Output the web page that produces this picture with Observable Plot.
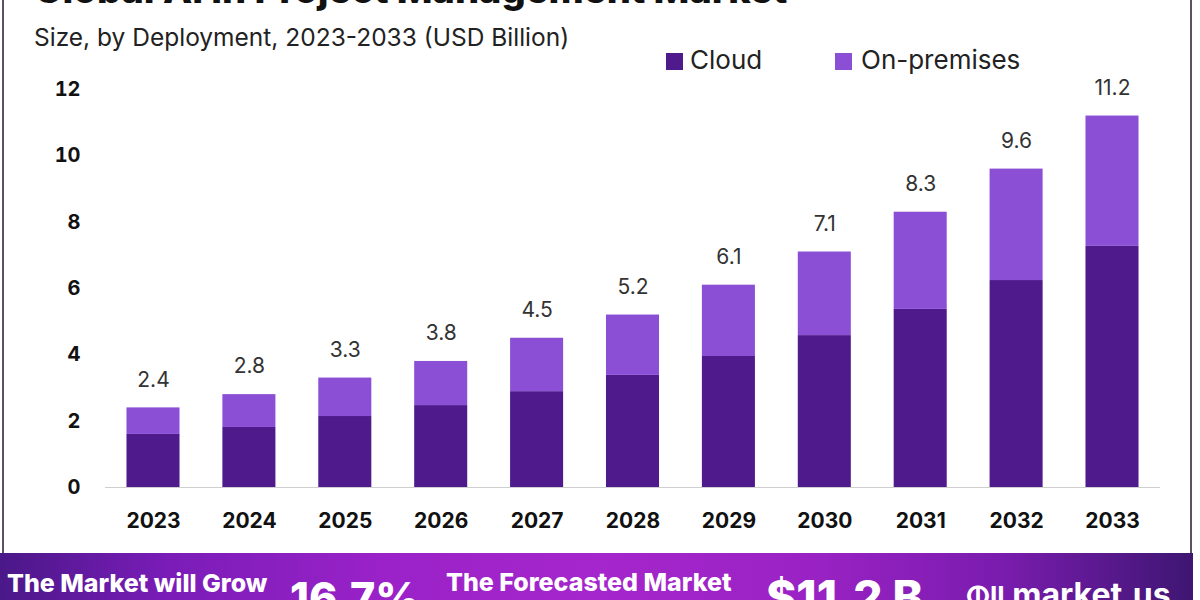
<!DOCTYPE html>
<html>
<head>
<meta charset="utf-8">
<script src="https://cdn.jsdelivr.net/npm/d3@7"></script>
<script src="https://cdn.jsdelivr.net/npm/@observablehq/plot@0.6"></script>
<style>
  html, body { margin: 0; padding: 0; background: #fff; }
  #wrap { position: relative; width: 1200px; height: 600px; overflow: hidden; background: #fff; font-family: Inter, "Open Sans", sans-serif; }
  #panel { position: absolute; left: 2px; top: -4px; width: 1190px; height: 557px; border-left: 2px solid #5b5066; border-right: 2px solid #5b5066; box-sizing: border-box; }
  #title { position: absolute; left: 34px; top: -34px; font-size: 38px; font-weight: 800; color: #111; white-space: nowrap; }
  #subtitle { position: absolute; left: 34px; top: 22px; font-size: 24.5px; color: #222; white-space: nowrap; }
  #legend { position: absolute; left: 0; top: 0; font-size: 26px; color: #222; }
  #legend .sw { position: absolute; width: 17px; height: 17px; top: 53px; }
  #legend .lab { position: absolute; top: 44px; white-space: nowrap; }
  #chart { position: absolute; left: 0; top: 0; }
  #banner { position: absolute; left: 0; top: 553px; width: 1193px; height: 47px;
    background: linear-gradient(90deg, #4a1888 0%, #7a1cb8 14%, #9a22c8 32%, #a526cc 50%, #9a22c4 68%, #7a1cae 84%, #3e1672 100%);
    color: #fff; font-weight: 800; white-space: nowrap; }
  #banner span { position: absolute; }
</style>
</head>
<body>
<div id="wrap">
  <div id="panel"></div>
  <div id="title">Global AI in Project Management Market</div>
  <div id="subtitle">Size, by Deployment, 2023-2033 (USD Billion)</div>
  <div id="legend"></div>
  <div id="chart"></div>
  <div id="banner">
    <span style="left:7px; top:15px; font-size:25px;">The Market will Grow</span>
    <span style="left:290px; top:18px; font-size:43px;">16.7%</span>
    <span style="left:446px; top:14px; font-size:25px;">The Forecasted Market</span>
    <span style="left:766px; top:16px; font-size:46px;">$11.2 B</span>
    <span style="left:966px; top:22px; font-size:32px; font-weight:700;"><span style="position:static;font-size:27px;">ⵀll</span> market.us</span>
  </div>
</div>
<script>
const years = ["2023","2024","2025","2026","2027","2028","2029","2030","2031","2032","2033"];
const totals = [2.4, 2.8, 3.3, 3.8, 4.5, 5.2, 6.1, 7.1, 8.3, 9.6, 11.2];
const cloud = [1.6, 1.81, 2.14, 2.47, 2.89, 3.38, 3.95, 4.58, 5.37, 6.24, 7.27];
const onPremises = [0.8, 0.99, 1.16, 1.33, 1.61, 1.82, 2.15, 2.52, 2.93, 3.36, 3.93];
const series = ["Cloud", "On-premises"];
const colors = ["#4f1a8c", "#8b4fd6"];
const yTicks = [0, 2, 4, 6, 8, 10, 12];

const rows = [];
years.forEach((y, i) => {
  rows.push({year: y, type: series[0], value: cloud[i]});
  rows.push({year: y, type: series[1], value: onPremises[i]});
});
const totalRows = years.map((y, i) => ({year: y, total: totals[i]}));

// legend
const legend = document.getElementById("legend");
const legendX = [[666, 690], [835, 861]];
series.forEach((s, i) => {
  const sw = document.createElement("span");
  sw.className = "sw";
  sw.style.left = legendX[i][0] + "px";
  sw.style.background = colors[i];
  const lab = document.createElement("span");
  lab.className = "lab";
  lab.style.left = legendX[i][1] + "px";
  lab.textContent = s;
  legend.appendChild(sw);
  legend.appendChild(lab);
});

const chart = Plot.plot({
  width: 1200,
  height: 552,
  marginTop: 89,
  marginBottom: 65,
  marginLeft: 105,
  marginRight: 40,
  style: {fontFamily: "Inter, 'Open Sans', sans-serif", background: "transparent", color: "#111"},
  x: {domain: years, paddingInner: 0.447, paddingOuter: 0.224, round: false, label: null},
  y: {domain: [0, 12], label: null},
  color: {domain: series, range: colors},
  marks: [
    Plot.barY(rows, {x: "year", y: "value", fill: "type"}),
    Plot.ruleY([0], {stroke: "#cfcfcf", strokeWidth: 1.2}),
    Plot.text(totalRows, {x: "year", y: "total", text: d => String(d.total), dy: -28, fontSize: 21, fill: "#333"}),
    Plot.axisX({tickSize: 0, tickPadding: 26, fontSize: 21, fontWeight: 700, fill: "#111"}),
    Plot.axisY({ticks: yTicks, tickSize: 0, tickPadding: 25, fontSize: 20, fontWeight: 700, fill: "#111", tickFormat: d => String(d)})
  ]
});
document.getElementById("chart").appendChild(chart);
</script>
</body>
</html>
